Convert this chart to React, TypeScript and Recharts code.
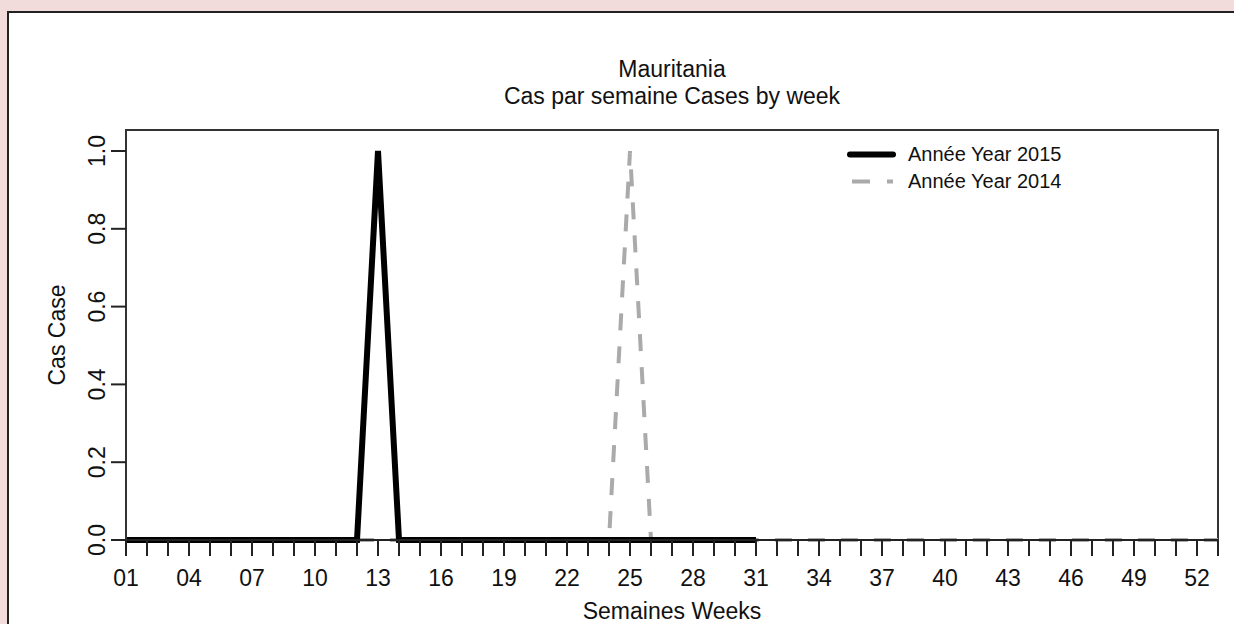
import React from "react"
import { LineChart, Line, XAxis, YAxis, ReferenceArea, Legend } from "recharts"

// weeks 01..53 on the x axis
const weeks = [
    1, 2, 3, 4, 5, 6, 7, 8, 9, 10, 11, 12, 13, 14, 15, 16, 17, 18, 19, 20,
    21, 22, 23, 24, 25, 26, 27, 28, 29, 30, 31, 32, 33, 34, 35, 36, 37, 38, 39, 40,
    41, 42, 43, 44, 45, 46, 47, 48, 49, 50, 51, 52, 53,
]
const labelledWeeks = [1, 4, 7, 10, 13, 16, 19, 22, 25, 28, 31, 34, 37, 40, 43, 46, 49, 52]

// 2015 only reported up to week 31
const cases2015 = [
    0, 0, 0, 0, 0, 0, 0, 0, 0, 0, 0, 0, 1, 0, 0, 0, 0, 0, 0, 0,
    0, 0, 0, 0, 0, 0, 0, 0, 0, 0, 0,
]
const cases2014 = [
    0, 0, 0, 0, 0, 0, 0, 0, 0, 0, 0, 0, 0, 0, 0, 0, 0, 0, 0, 0,
    0, 0, 0, 0, 1, 0, 0, 0, 0, 0, 0, 0, 0, 0, 0, 0, 0, 0, 0, 0,
    0, 0, 0, 0, 0, 0, 0, 0, 0, 0, 0, 0, 0,
]
const yTicks = [0, 0.2, 0.4, 0.6, 0.8, 1.0]

const FONT = "'Liberation Sans', Arial, sans-serif"
const INK = "#111"

const data = weeks.map((w, i) => ({
    week: w,
    y2015: i < cases2015.length ? cases2015[i] : null,
    y2014: cases2014[i],
}))

function XTick(props: any) {
    const { x, payload } = props
    if (!labelledWeeks.includes(payload.value)) return <g />
    return (
        <text x={x} y={578} textAnchor="middle" dominantBaseline="central"
            fontFamily={FONT} fontSize={23} fill={INK}>
            {String(payload.value).padStart(2, "0")}
        </text>
    )
}

function YTick(props: any) {
    const { y, payload } = props
    return (
        <text x={97} y={y} transform={`rotate(-90, 97, ${y})`} textAnchor="middle"
            dominantBaseline="central" fontFamily={FONT} fontSize={23} fill={INK}>
            {payload.value.toFixed(1)}
        </text>
    )
}

function LegendBox() {
    const row = { display: "flex", alignItems: "center", height: 27 }
    const label = { fontFamily: FONT, fontSize: 20, color: INK, whiteSpace: "nowrap" as const }
    return (
        <div>
            <div style={row}>
                <svg width={62} height={27}>
                    <line x1={4} x2={47} y1={13.5} y2={13.5} stroke="#000" strokeWidth={6} strokeLinecap="round" />
                </svg>
                <span style={label}>Année Year 2015</span>
            </div>
            <div style={row}>
                <svg width={62} height={27}>
                    <line x1={6} x2={47} y1={13.5} y2={13.5} stroke="#aaaaaa" strokeWidth={4} strokeDasharray="18 17" />
                </svg>
                <span style={label}>Année Year 2014</span>
            </div>
        </div>
    )
}

export default function App() {
    return (
        <div style={{ position: "absolute", left: 0, top: 0, width: 1234, height: 624, background: "#f2dcdb", overflow: "hidden" }}>
            <div style={{ position: "absolute", left: 7, top: 11, width: 1300, height: 700, background: "#fff", borderLeft: "2px solid #222", borderTop: "2px solid #222" }} />
            <div style={{ position: "absolute", left: 0, top: 0 }}>
                <LineChart width={1234} height={624} data={data} margin={{ top: 130, right: 16, left: 0, bottom: 0 }}>
                    <XAxis
                        dataKey="week"
                        type="number"
                        domain={[1, 53]}
                        ticks={weeks}
                        interval={0}
                        height={84}
                        tickSize={16}
                        tick={<XTick />}
                        tickLine={{ stroke: "#222", strokeWidth: 2 }}
                        axisLine={{ stroke: "#222", strokeWidth: 2 }}
                    />
                    <YAxis
                        type="number"
                        domain={[0, 1.054]}
                        ticks={yTicks}
                        width={126}
                        tickSize={15}
                        tick={<YTick />}
                        tickLine={{ stroke: "#222", strokeWidth: 2 }}
                        axisLine={{ stroke: "#333", strokeWidth: 2 }}
                    />
                    <ReferenceArea x1={1} x2={53} y1={0} y2={1.054} fill="none" stroke="#333" strokeWidth={2} />
                    <Legend
                        layout="vertical"
                        align="center"
                        verticalAlign="middle"
                        content={<LegendBox />}
                        wrapperStyle={{ position: "absolute", left: 846, top: 141, width: 280 }}
                    />
                    <Line
                        type="linear"
                        dataKey="y2014"
                        stroke="#aaaaaa"
                        strokeWidth={4}
                        strokeDasharray="17 16"
                        dot={false}
                        isAnimationActive={false}
                    />
                    <Line
                        type="linear"
                        dataKey="y2015"
                        stroke="#000"
                        strokeWidth={6}
                        dot={false}
                        connectNulls={false}
                        isAnimationActive={false}
                    />
                </LineChart>
            </div>
            <div style={{ position: "absolute", left: 372, width: 600, top: 56, textAlign: "center", fontFamily: FONT, fontSize: 23, lineHeight: "27px", color: INK }}>
                Mauritania
                <br />
                Cas par semaine Cases by week
            </div>
            <div style={{ position: "absolute", left: 372, width: 600, top: 598, textAlign: "center", fontFamily: FONT, fontSize: 23, lineHeight: "27px", color: INK }}>
                Semaines Weeks
            </div>
            <div style={{ position: "absolute", left: 57 - 150, top: 335 - 14, width: 300, height: 28, transform: "rotate(-90deg)", textAlign: "center", fontFamily: FONT, fontSize: 23, lineHeight: "28px", color: INK }}>
                Cas Case
            </div>
        </div>
    )
}
